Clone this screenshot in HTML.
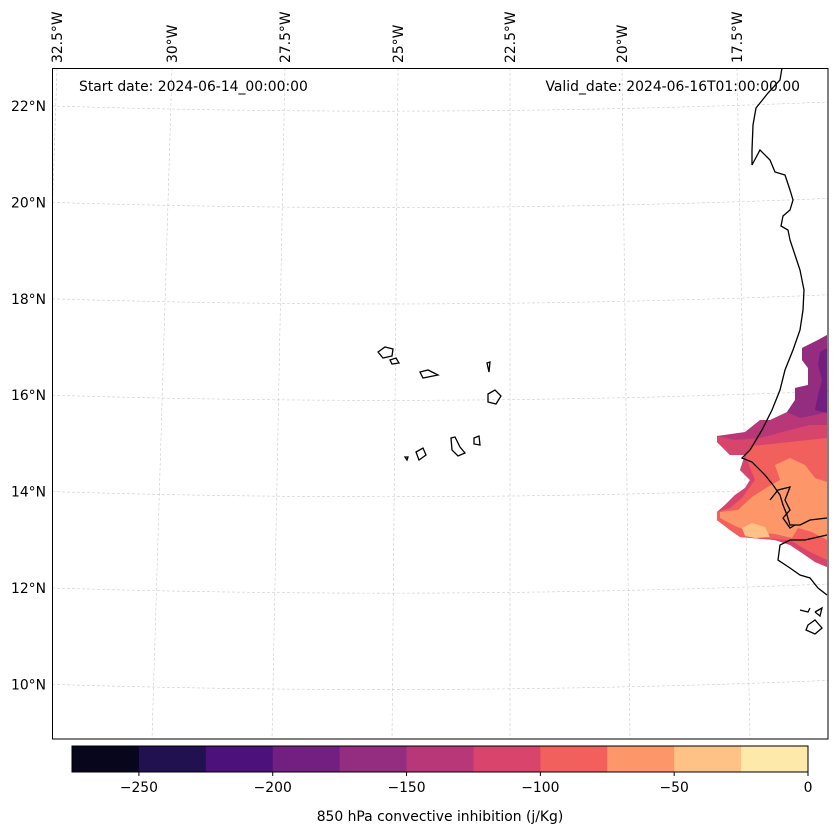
<!DOCTYPE html>
<html><head><meta charset="utf-8"><style>
body{margin:0;background:#fff;font-family:"DejaVu Sans","Liberation Sans",sans-serif}
svg text{font-family:"DejaVu Sans","Liberation Sans",sans-serif;font-size:13.9px;fill:#000}
</style></head><body>
<svg width="837" height="836">
<defs><clipPath id="mc"><rect x="52" y="68" width="776" height="671"/></clipPath></defs>
<g clip-path="url(#mc)">
<g id="grid" stroke="#ccc" stroke-width="0.6" stroke-dasharray="3,2" fill="none"></g>
<g stroke="none">
<path fill="#b73779" d="M827,335 L818,340 L802,348 L802,360 L808,368 L808,385 L795,388 L795,400 L787,412 L770,420 L760,420 L745,432 L717,436 L717,442 L730,455 L745,455 L740,470 L750,480 L745,488 L735,495 L725,505 L717,512 L717,520 L730,530 L740,537 L775,540 L790,545 L805,555 L815,562 L827,567 Z"/>
<path fill="#942c80" d="M827,335 L818,340 L802,348 L802,360 L808,368 L808,385 L795,388 L795,400 L787,412 L800,418 L815,415 L827,412 Z"/>
<path fill="#721f81" d="M827,348 L820,352 L818,365 L822,380 L818,395 L815,410 L827,413 Z"/>
<path fill="#d8456c" d="M717,436 L717,442 L730,455 L745,455 L740,470 L750,480 L745,488 L735,495 L725,505 L717,512 L717,520 L730,530 L740,537 L775,540 L790,545 L805,555 L815,562 L827,567 L827,425 L810,425 L790,430 L760,438 L735,440 Z"/>
<path fill="#f1605d" d="M745,455 L752,446 L790,442 L827,438 L827,560 L810,552 L790,540 L760,538 L740,537 L730,530 L717,520 L717,512 L730,508 L742,498 L755,480 Z"/>
<path fill="#fd9668" d="M775,465 L790,458 L805,465 L815,478 L827,482 L827,540 L812,532 L798,528 L792,538 L775,534 L750,532 L735,526 L720,518 L720,512 L738,510 L752,497 L766,488 L780,480 Z"/>
<path fill="#fec287" d="M742,528 L752,523 L765,527 L770,537 L755,538 L745,536 Z"/>
</g>
<g stroke="#000" stroke-width="1.3" fill="none">
<path d="M782,68 L780,80 L768,93 L756,108 L753,125 L752,150 L752,165 L760,150 L770,160 L775,172 L785,175 L790,190 L793,200 L790,210 L783,216 L781,226 L788,230 L790,240 L795,255 L800,270 L804,290 L803,310 L800,330 L793,350 L785,370 L780,390 L772,410 L762,430 L750,450 L742,458 L752,462 L765,475 L773,485 L780,495 L783,505 L787,515 L790,525 L800,525 L810,520 L827,518"/>
<path d="M770,500 L778,490 L790,487 L785,500 L790,510 L783,518 L790,528 L795,525"/>
<path d="M827,535 L805,540 L790,540 L780,545 L778,560 L790,568 L800,575 L810,578 L818,588 L827,595"/>
<path d="M800,610 L808,612 L810,608 M815,612 L822,608 L820,616 L815,612 M808,625 L815,620 L822,628 L815,634 L806,630 Z"/>
<path d="M378,352 L385,347 L393,349 L392,356 L383,358 Z M390,360 L396,358 L399,363 L392,364 Z M420,372 L428,370 L438,375 L428,377 L423,378 Z M487,363 L490,362 L489,372 Z M488,394 L495,390 L501,396 L496,404 L488,402 Z M416,452 L423,448 L426,455 L419,460 Z M451,438 L455,437 L460,447 L465,453 L458,456 L452,450 Z M474,438 L479,436 L480,445 L474,444 Z M405,457 L408,457 L407,460 Z"/>
</g>
</g>
<rect x="52.5" y="68.5" width="775.5" height="670.5" fill="none" stroke="#000" stroke-width="1"/>
<g id="labels"></g>
<text x="79" y="91">Start date: 2024-06-14_00:00:00</text>
<text x="800" y="91" text-anchor="end">Valid_date: 2024-06-16T01:00:00.00</text>
<g id="cbar"></g>
<text x="440" y="821" text-anchor="middle">850 hPa convective inhibition (j/Kg)</text>
</svg>
<script>
const lonLabels=["32.5°W","30°W","27.5°W","25°W","22.5°W","20°W","17.5°W"];
const lonTop=[57,172,285,398,510,622,737];
const lonBot=[35,152,272,392,510,630,750];
const latLabels=["22°N","20°N","18°N","16°N","14°N","12°N","10°N"];
const latVals=[22,20,18,16,14,12,10];
const cbLevels=[-275,-250,-225,-200,-175,-150,-125,-100,-75,-50,-25,0];
const cbColors=["#07061c","#221150","#4d117b","#721f81","#942c80","#b73779","#d8456c","#f1605d","#fd9668","#fec287","#fde9a9"];
const cbTicks=[-250,-200,-150,-100,-50,0];
const NS="http://www.w3.org/2000/svg";
function mk(t,a,p){const e=document.createElementNS(NS,t);for(const k in a)e.setAttribute(k,a[k]);p.appendChild(e);return e;}
const grid=document.getElementById('grid'),labels=document.getElementById('labels'),cb=document.getElementById('cbar');
const latY=v=>106+(22-v)*48.2;
lonTop.forEach((x,i)=>{
 const l=mk('line',{x1:x,y1:68,x2:lonBot[i],y2:739},grid);
 
 
 const t=mk('text',{transform:`translate(${x+5},63) rotate(-90)`},labels);
 t.textContent=lonLabels[i];
 
 
});
latVals.forEach((v,i)=>{
 const y=latY(v);
 const p=mk('path',{d:`M52,${y} Q440,${y+12} 828,${y-4}`},grid);
 
 
 const t=mk('text',{x:46,y:y+5,'text-anchor':'end'},labels);
 t.textContent=latLabels[i];
 
 
});
const cx=v=>72+(v+275)/275*736;
cbColors.forEach((c,i)=>{
 const r=mk('rect',{x:cx(cbLevels[i]),y:746,width:cx(cbLevels[i+1])-cx(cbLevels[i])+0.5,height:26,fill:c},cb);
 
 
});
mk('rect',{x:72,y:746,width:736,height:26,fill:'none',stroke:'#000','stroke-width':1},cb);
cbTicks.forEach(v=>{
 mk('line',{x1:cx(v),y1:772,x2:cx(v),y2:776,stroke:'#000'},cb);
 const t=mk('text',{x:cx(v),y:792,'text-anchor':'middle'},cb);
 t.textContent=v<0?'\u2212'+Math.abs(v):String(v);
 
 
});
</script>
</body></html>
